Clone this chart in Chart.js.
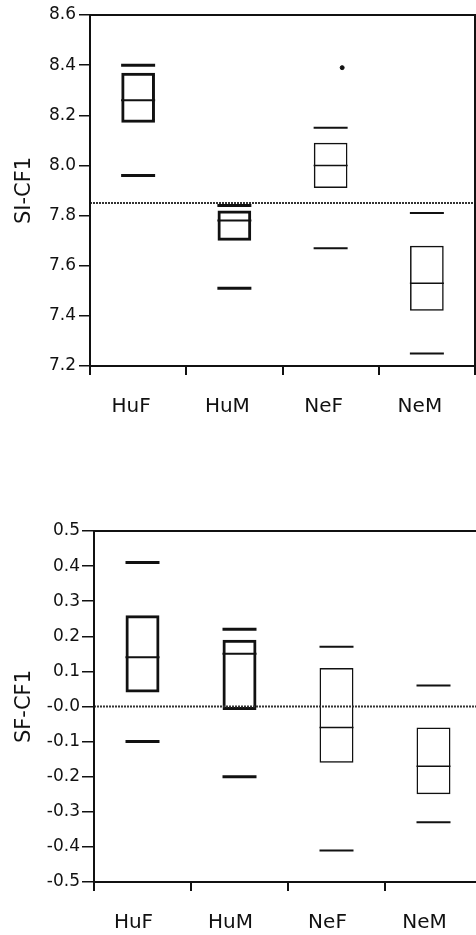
<!DOCTYPE html>
<html>
<head>
<meta charset="utf-8">
<script src="https://cdn.jsdelivr.net/npm/chart.js@4.4.0/dist/chart.umd.min.js"></script>
<style>
    html, body { margin: 0; padding: 0; background: #fff; overflow: hidden; width: 476px; height: 935px; }
    canvas { position: absolute; left: 0; display: block; }
    #siChart { top: 0; }
    #sfChart { top: 455px; }
</style>
</head>
<body>
<canvas id="siChart" width="480" height="430"></canvas>
<canvas id="sfChart" width="486" height="480"></canvas>
<script>
const groups = ["HuF", "HuM", "NeF", "NeM"];

// SI-CF1
const siWhiskerHigh = [8.40, 7.84, 8.15, 7.81];
const siQ3 = [8.37, 7.82, 8.09, 7.68];
const siMedian = [8.26, 7.78, 8.00, 7.53];
const siQ1 = [8.17, 7.70, 7.91, 7.42];
const siWhiskerLow = [7.96, 7.51, 7.67, 7.25];
const siOutliers = [{ x: 2.12, y: 8.39 }];
const siReference = 7.85;
const siTickLabels = ["7.2", "7.4", "7.6", "7.8", "8.0", "8.2", "8.4", "8.6"];

// SF-CF1
const sfWhiskerHigh = [0.41, 0.22, 0.17, 0.06];
const sfQ3 = [0.26, 0.19, 0.11, -0.06];
const sfMedian = [0.14, 0.15, -0.06, -0.17];
const sfQ1 = [0.04, -0.01, -0.16, -0.25];
const sfWhiskerLow = [-0.10, -0.20, -0.41, -0.33];
const sfOutliers = [];
const sfReference = 0.0;
const sfTickLabels = ["-0.5", "-0.4", "-0.3", "-0.2", "-0.1", "-0.0", "0.1", "0.2", "0.3", "0.4", "0.5"];

const ink = "#111";
const boxWidths = [3, 3, 1.5, 1.5];
const medianWidths = [2, 2, 1.5, 1.5];
const capWidths = [3, 3, 2, 2];

// cadre autour de la zone du graphique
const frame = {
    id: "frame",
    afterDatasetsDraw(chart) {
        const { ctx, chartArea: a } = chart;
        ctx.save();
        ctx.strokeStyle = ink;
        ctx.lineWidth = 2;
        ctx.strokeRect(a.left, a.top, a.right - a.left, a.bottom - a.top);
        ctx.restore();
    },
};

// pas de marge automatique autour de l'axe
function noPadding(scale) {
    scale.paddingLeft = 0;
    scale.paddingRight = 0;
    scale.paddingTop = 0;
    scale.paddingBottom = 0;
}

function capDataset(values, widths) {
    return {
        type: "line",
        data: values,
        showLine: false,
        pointStyle: "line",
        pointRadius: 17,
        pointHoverRadius: 17,
        pointBorderColor: ink,
        pointBorderWidth: widths,
    };
}

function makeChart(id, s) {
    const ctx = document.getElementById(id).getContext("2d");
    return new Chart(ctx, {
        type: "bar",
        data: {
            labels: groups,
            datasets: [
                {
                    type: "line",
                    xAxisID: "x2",
                    data: [{ x: -0.5, y: s.reference }, { x: 3.5, y: s.reference }],
                    borderColor: "#333",
                    borderWidth: 2,
                    borderDash: [2, 1],
                    pointRadius: 0,
                },
                {
                    type: "bar",
                    data: groups.map((g, i) => [s.q1[i], s.q3[i]]),
                    backgroundColor: "rgba(0,0,0,0)",
                    borderColor: ink,
                    borderWidth: boxWidths,
                    borderSkipped: false,
                    grouped: false,
                    barPercentage: 0.35,
                    categoryPercentage: 1,
                },
                capDataset(s.median, medianWidths),
                capDataset(s.high, capWidths),
                capDataset(s.low, capWidths),
                {
                    type: "scatter",
                    xAxisID: "x2",
                    data: s.outliers,
                    pointStyle: "circle",
                    pointRadius: 2,
                    backgroundColor: ink,
                    borderColor: ink,
                },
            ],
        },
        options: {
            responsive: false,
            animation: false,
            layout: { autoPadding: false, padding: s.padding },
            plugins: { legend: { display: false }, tooltip: { enabled: false } },
            scales: {
                x: {
                    type: "category",
                    offset: true,
                    grid: { offset: true, drawOnChartArea: false, tickLength: 9, color: ink, lineWidth: 2 },
                    border: { color: ink, width: 2 },
                    ticks: {
                        color: ink,
                        padding: 20,
                        labelOffset: s.labelShift,
                        font: { family: "DejaVu Sans", size: 20 },
                    },
                    afterFit: (scale) => {
                        noPadding(scale);
                        scale.height = s.xHeight;
                    },
                },
                x2: {
                    type: "linear",
                    display: false,
                    offset: false,
                    min: -0.5,
                    max: 3.5,
                    ticks: { display: false },
                    afterFit: noPadding,
                },
                y: {
                    min: s.min,
                    max: s.max,
                    ticks: {
                        stepSize: s.step,
                        autoSkip: false,
                        color: ink,
                        padding: s.tickPad,
                        font: { family: "DejaVu Sans", size: 17 },
                        callback: (v, i) => s.tickLabels[i],
                    },
                    grid: { drawOnChartArea: false, tickLength: s.tickLen, color: ink, lineWidth: 1.5 },
                    border: { color: ink, width: 2 },
                    title: {
                        display: true,
                        text: s.title,
                        color: ink,
                        padding: { top: 12, bottom: 0 },
                        font: { family: "DejaVu Sans", size: 21 },
                    },
                    afterFit: (scale) => {
                        noPadding(scale);
                        scale.width = s.yWidth;
                    },
                },
            },
        },
        plugins: [frame],
    });
}

makeChart("siChart", {
    high: siWhiskerHigh, q3: siQ3, median: siMedian, q1: siQ1, low: siWhiskerLow,
    outliers: siOutliers, reference: siReference, tickLabels: siTickLabels,
    title: "SI-CF1", min: 7.2, max: 8.6, step: 0.2,
    yWidth: 90, xHeight: 64, tickLen: 11, tickPad: 3, labelShift: -7,
    padding: { top: 15, right: 5, left: 0, bottom: 0 },
});

makeChart("sfChart", {
    high: sfWhiskerHigh, q3: sfQ3, median: sfMedian, q1: sfQ1, low: sfWhiskerLow,
    outliers: sfOutliers, reference: sfReference, tickLabels: sfTickLabels,
    title: "SF-CF1", min: -0.5, max: 0.5, step: 0.1,
    yWidth: 94, xHeight: 53, tickLen: 12, tickPad: 2, labelShift: -9,
    padding: { top: 76, right: 4, left: 0, bottom: 0 },
});
</script>
</body>
</html>
